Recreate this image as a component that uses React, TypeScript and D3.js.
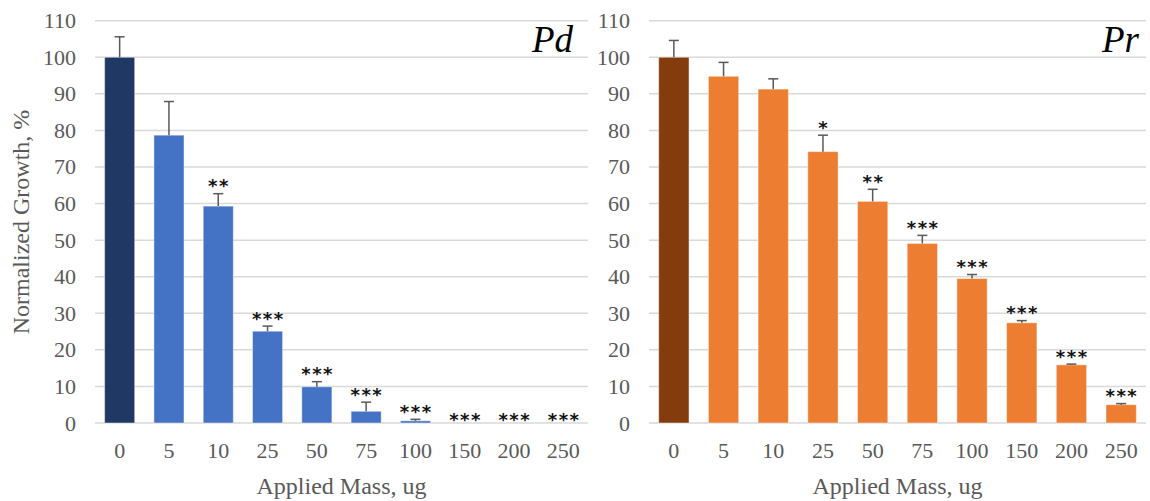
import React from "react";
import * as d3 from "d3";

const categories = ["0", "5", "10", "25", "50", "75", "100", "150", "200", "250"];
const pdValues = [100, 78.7, 59.3, 25.1, 9.9, 3.2, 0.6, 0, 0, 0];
const pdErrors = [5.6, 9.2, 3.4, 1.4, 1.4, 2.5, 0.4, 0, 0, 0];
const pdStars = ["", "", "**", "***", "***", "***", "***", "***", "***", "***"];
const prValues = [100, 94.8, 91.3, 74.2, 60.6, 49.1, 39.5, 27.4, 15.9, 5.0];
const prErrors = [4.6, 3.8, 2.8, 4.5, 3.3, 2.2, 1.1, 0.6, 0.2, 0.3];
const prStars = ["", "", "", "*", "**", "***", "***", "***", "***", "***"];
const yTicks = [0, 10, 20, 30, 40, 50, 60, 70, 80, 90, 100, 110];

const W = 1150;
const H = 501;
const serif = "'Liberation Serif', 'Times New Roman', serif";

type PanelProps = {
  x0: number;
  x1: number;
  values: number[];
  errors: number[];
  stars: string[];
  controlColor: string;
  color: string;
  label: string;
  labelX: number;
  tickX: number;
};

const y = d3.scaleLinear().domain([0, 110]).range([423, 20.7]);

function Panel(p: PanelProps) {
  const x = d3
    .scaleBand<string>()
    .domain(categories)
    .range([p.x0, p.x1])
    .paddingInner(0.39)
    .paddingOuter(0.195);
  const bw = x.bandwidth();
  return (
    <g>
      {yTicks.map((t) => (
        <g key={t}>
          <line x1={p.x0} x2={p.x1} y1={y(t)} y2={y(t)} stroke="#d9d9d9" strokeWidth={1.5} />
          <text
            x={p.tickX}
            y={y(t)}
            textAnchor="end"
            dominantBaseline="central"
            fontFamily={serif}
            fontSize={22}
            fill="#595959"
          >
            {t}
          </text>
        </g>
      ))}
      {categories.map((c, i) => {
        const cx = (x(c) as number) + bw / 2;
        const v = p.values[i];
        const top = y(v + p.errors[i]);
        const gap = v > 0 ? 9 : 5;
        return (
          <g key={c}>
            {v > 0 && (
              <rect
                x={x(c) as number}
                y={y(v)}
                width={bw}
                height={y(0) - y(v)}
                fill={i === 0 ? p.controlColor : p.color}
                stroke="rgba(255,255,255,0.45)"
                strokeWidth={1}
              />
            )}
            {p.errors[i] > 0 && (
              <g stroke="#595959" strokeWidth={1.5}>
                <line x1={cx} x2={cx} y1={y(v)} y2={top} />
                <line x1={cx - 5} x2={cx + 5} y1={top} y2={top} />
              </g>
            )}
            {p.stars[i] && (
              <text
                x={cx + 0.75}
                y={top - gap + 7.7}
                textAnchor="middle"
                fontFamily="'DejaVu Sans', sans-serif"
                fontWeight="bold"
                fontSize={18}
                letterSpacing={1.5}
                fill="#111"
              >
                {p.stars[i]}
              </text>
            )}
            <text
              x={cx}
              y={450}
              textAnchor="middle"
              dominantBaseline="central"
              fontFamily={serif}
              fontSize={22}
              fill="#595959"
            >
              {c}
            </text>
          </g>
        );
      })}
      <text
        x={(p.x0 + p.x1) / 2}
        y={486}
        textAnchor="middle"
        dominantBaseline="central"
        fontFamily={serif}
        fontSize={24}
        fill="#595959"
      >
        Applied Mass, ug
      </text>
      <text
        x={p.labelX}
        y={52}
        textAnchor="end"
        fontFamily={serif}
        fontStyle="italic"
        fontSize={37}
        fill="#000"
      >
        {p.label}
      </text>
    </g>
  );
}

export default function App() {
  return (
    <svg
      width={W}
      height={H}
      style={{ position: "absolute", left: 0, top: 0, background: "#fff" }}
    >
      <text
        transform={`translate(21,222) rotate(-90)`}
        textAnchor="middle"
        dominantBaseline="central"
        fontFamily={serif}
        fontSize={24}
        fill="#595959"
      >
        Normalized Growth, %
      </text>
      <Panel
        x0={95}
        x1={588}
        values={pdValues}
        errors={pdErrors}
        stars={pdStars}
        controlColor="#203864"
        color="#4472c4"
        label="Pd"
        labelX={573}
        tickX={76}
      />
      <Panel
        x0={649}
        x1={1146}
        values={prValues}
        errors={prErrors}
        stars={prStars}
        controlColor="#843c0c"
        color="#ed7d31"
        label="Pr"
        labelX={1139}
        tickX={630}
      />
    </svg>
  );
}
